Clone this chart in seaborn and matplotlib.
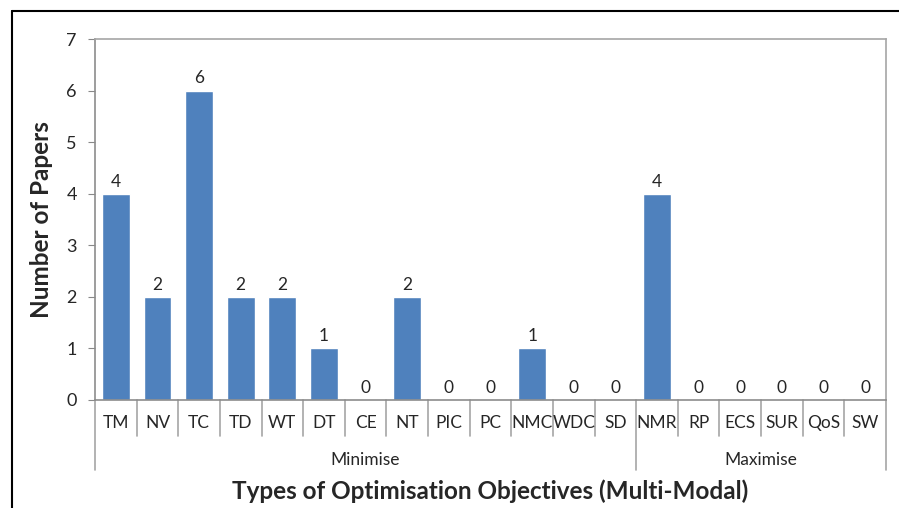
import matplotlib
matplotlib.use("Agg")
import matplotlib.pyplot as plt
import matplotlib.transforms as mtransforms
import pandas as pd
import seaborn as sb

# data
categories = ['TM', 'NV', 'TC', 'TD', 'WT', 'DT', 'CE', 'NT', 'PIC', 'PC', 'NMC', 'WDC', 'SD',
              'NMR', 'RP', 'ECS', 'SUR', 'QoS', 'SW']
papers = [4, 2, 6, 2, 2, 1, 0, 2, 0, 0, 1, 0, 0, 4, 0, 0, 0, 0, 0]
groups = ['Minimise', 'Maximise']
group_sizes = [13, 6]

sb.set_style("white")
plt.rcParams["font.family"] = ["Lato", "DejaVu Sans"]

df = pd.DataFrame({'cat': categories, 'n': papers})

fig = plt.figure(figsize=(8.99, 5.08), dpi=100)
ax = fig.add_axes([95/899, 1-400/508, (886-95)/899, (400-39)/508])

sb.barplot(data=df, x='cat', y='n', color='#4F81BD', saturation=1, width=0.67, ax=ax)
ax.bar_label(ax.containers[0], fontsize=12.5, padding=3)

ax.set_ylim(0, 7)
ax.set_xlim(-0.5, len(categories) - 0.5)
ax.set_yticks(range(0, 8))
ax.tick_params(axis='y', left=True, length=5, color='#888888', labelsize=13, pad=8)
ax.set_xticks([])
ax.set_xlabel('')
ax.set_ylabel('Number of Papers', fontsize=17.5, fontweight='bold', labelpad=10)
for s in ['left', 'bottom']:
    ax.spines[s].set_color('#8c8c8c')
    ax.spines[s].set_linewidth(1.2)
for s in ['top', 'right']:
    ax.spines[s].set_color('#a6a6a6')
    ax.spines[s].set_linewidth(1.2)

# multi-level category axis
trans = mtransforms.blended_transform_factory(ax.transData, ax.transAxes)
bounds = [-0.5]
for g in group_sizes:
    bounds.append(bounds[-1] + g)
for i in range(len(categories) + 1):
    x = i - 0.5
    y0 = -0.194 if x in bounds else -0.0997
    ax.plot([x, x], [0, y0], color='#a6a6a6', lw=1.2, transform=trans, clip_on=False)
for i, c in enumerate(categories):
    ax.text(i, -0.064, c, transform=trans, ha='center', va='center', fontsize=12.5)
for k, g in enumerate(groups):
    mid = (bounds[k] + bounds[k + 1]) / 2
    ax.text(mid, -0.166, g, transform=trans, ha='center', va='center', fontsize=12.5)

fig.text(490/899, 1-491/508, 'Types of Optimisation Objectives (Multi-Modal)',
         ha='center', va='center', fontsize=17.5, fontweight='bold')

# outer frame
fig.add_artist(plt.Line2D([12/899, 1], [1-11/508, 1-11/508], color='black', lw=1.5))
fig.add_artist(plt.Line2D([12/899, 12/899], [0, 1-11/508], color='black', lw=1.5))

plt.savefig('out.png', dpi=100)
